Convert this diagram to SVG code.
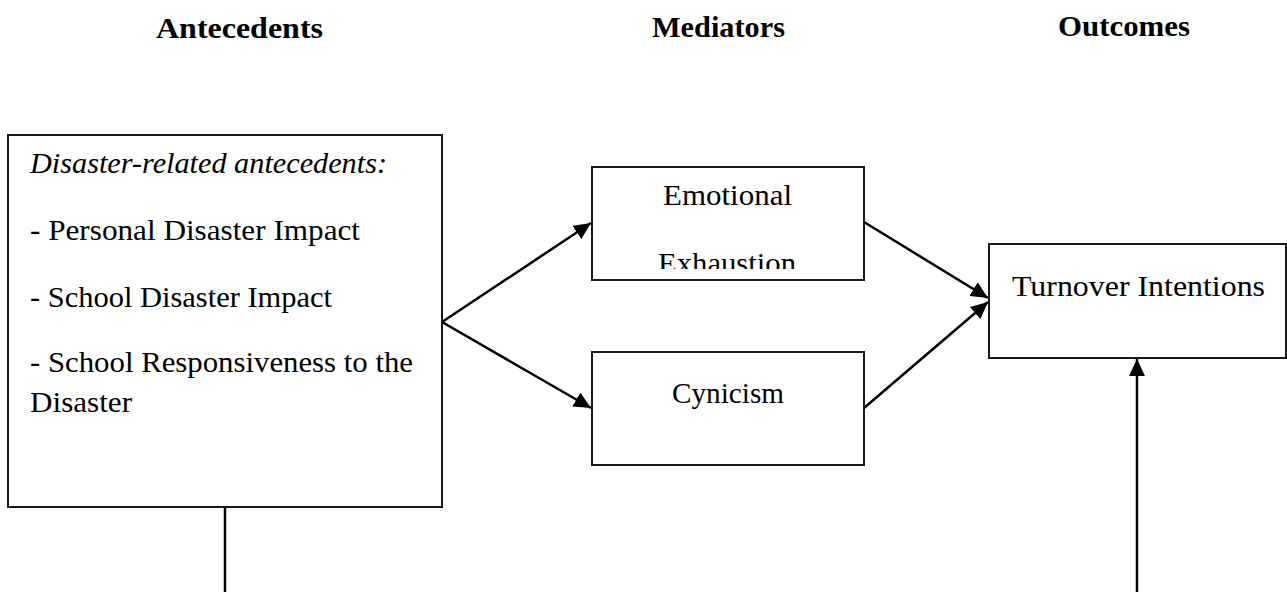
<svg xmlns="http://www.w3.org/2000/svg" width="1287" height="592" viewBox="0 0 1287 592">
<style>
.box{fill:#fff;stroke:#1a1a1a;stroke-width:2}
.t{font-family:"Liberation Serif","Times New Roman",serif;font-size:30px;fill:#000}
.h{font-family:"Liberation Serif","Times New Roman",serif;font-size:29px;font-weight:bold;fill:#000}
.it{font-style:italic}
.c{stroke:#000;stroke-width:2.5;fill:none}
</style>
<defs>
<marker id="ah" markerUnits="userSpaceOnUse" markerWidth="18" markerHeight="16" refX="17" refY="8" orient="auto">
<path d="M0,0 L17,8 L0,16 z" fill="#000"/>
</marker>
<clipPath id="eeclip"><rect x="593" y="168" width="270" height="101"/></clipPath>
</defs>
<g id="headers">
<text class="h" x="156" y="38" textLength="167" lengthAdjust="spacingAndGlyphs">Antecedents</text>
<text class="h" x="652" y="37" textLength="133" lengthAdjust="spacingAndGlyphs">Mediators</text>
<text class="h" x="1058" y="36" textLength="132" lengthAdjust="spacingAndGlyphs">Outcomes</text>
</g>
<g id="connectors">
<line class="c" x1="442" y1="322" x2="591" y2="223" marker-end="url(#ah)"/>
<line class="c" x1="442" y1="322" x2="591" y2="408" marker-end="url(#ah)"/>
<line class="c" x1="864" y1="222" x2="988" y2="298" marker-end="url(#ah)"/>
<line class="c" x1="864" y1="408" x2="988" y2="302" marker-end="url(#ah)"/>
<line class="c" x1="1137" y1="592" x2="1137" y2="359" marker-end="url(#ah)"/>
<line class="c" x1="225" y1="507" x2="225" y2="592"/>
</g>
<g id="antecedents">
<rect class="box" x="8" y="135" width="434" height="372"/>
<text class="t it" x="30" y="173" textLength="357" lengthAdjust="spacingAndGlyphs">Disaster-related antecedents:</text>
<text class="t" x="30" y="240" textLength="330" lengthAdjust="spacingAndGlyphs">- Personal Disaster Impact</text>
<text class="t" x="30" y="307" textLength="302" lengthAdjust="spacingAndGlyphs">- School Disaster Impact</text>
<text class="t" x="30" y="372" textLength="383" lengthAdjust="spacingAndGlyphs">- School Responsiveness to the</text>
<text class="t" x="30" y="412" textLength="102" lengthAdjust="spacingAndGlyphs">Disaster</text>
</g>
<g id="emotional-exhaustion">
<rect class="box" x="592" y="167" width="272" height="113"/>
<text class="t" x="663" y="205" textLength="129" lengthAdjust="spacingAndGlyphs">Emotional</text>
<text class="t" x="658" y="273" textLength="138" lengthAdjust="spacingAndGlyphs" clip-path="url(#eeclip)">Exhaustion</text>
</g>
<g id="cynicism">
<rect class="box" x="592" y="352" width="272" height="113"/>
<text class="t" x="672" y="403" textLength="112" lengthAdjust="spacingAndGlyphs">Cynicism</text>
</g>
<g id="turnover">
<rect class="box" x="989" y="244" width="297" height="114"/>
<text class="t" x="1012" y="296" textLength="253" lengthAdjust="spacingAndGlyphs">Turnover Intentions</text>
</g>
</svg>
